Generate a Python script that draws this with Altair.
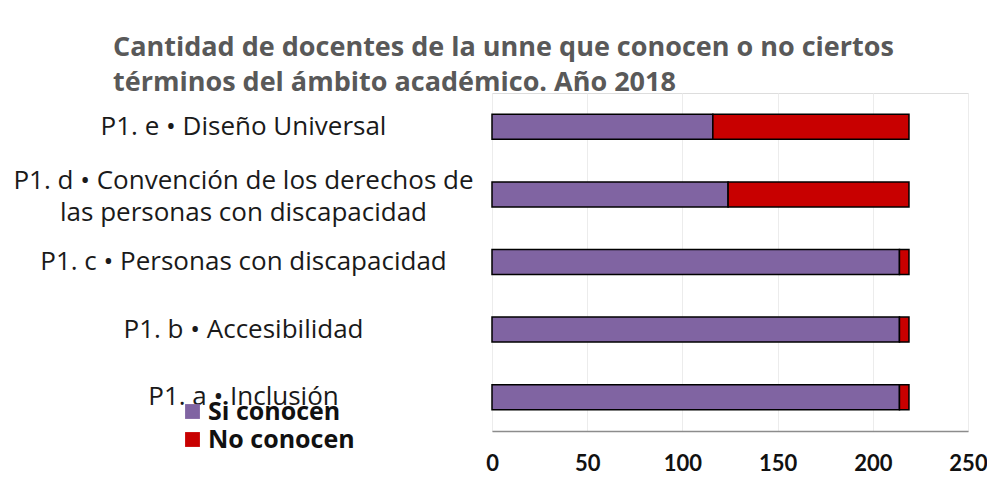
import altair as alt
import pandas as pd

categories = [
    "P1. e • Diseño Universal",
    "P1. d • Convención de los derechos de|las personas con discapacidad",
    "P1. c • Personas con discapacidad",
    "P1. b • Accesibilidad",
    "P1. a • Inclusión",
]
si_conocen = [116, 124, 214, 214, 214]
no_conocen = [103, 95, 5, 5, 5]
series = ["Si conocen", "No conocen"]
bar_colors = ["#8064a2", "#c80000"]
x_ticks = [0, 50, 100, 150, 200, 250]
title_lines = [
    "Cantidad de docentes de la unne que conocen o no ciertos",
    "términos del ámbito académico. Año 2018",
]

rows = []
for i, c in enumerate(categories):
    rows.append({"cat": c, "serie": series[0], "val": si_conocen[i], "ord": 0})
    rows.append({"cat": c, "serie": series[1], "val": no_conocen[i], "ord": 1})
df = pd.DataFrame(rows)

FONT = "Open Sans"

bars = alt.Chart(df).mark_bar(stroke="black", strokeWidth=1.5).encode(
    y=alt.Y("cat:N", sort=categories,
            scale=alt.Scale(paddingInner=0.63, paddingOuter=0.315),
            axis=alt.Axis(title=None, labelAlign="center", labelBaseline="middle",
                          labelPadding=249, ticks=False, domain=False,
                          labelExpr="split(datum.value, '|')",
                          labelOffset={"condition": {"test": "indexof(datum.value, '|') >= 0", "value": -13},
                                       "value": 0},
                          labelFontSize=26, labelFont=FONT, labelColor="#1a1a1a",
                          labelLineHeight=32, labelLimit=700)),
    x=alt.X("val:Q", stack="zero",
            scale=alt.Scale(domain=[0, 250], nice=False),
            axis=alt.Axis(title=None, values=x_ticks, grid=True, gridColor="#ececec",
                          ticks=False, domainColor="#8c8c8c", domainWidth=1.5,
                          labelFontSize=22, labelFontWeight="bold", labelFont="Lato",
                          labelColor="#111111", labelPadding=22, labelFlush=False)),
    color=alt.Color("serie:N", scale=alt.Scale(domain=series, range=bar_colors),
                    legend=alt.Legend(title=None, orient="none", legendX=-312, legendY=306,
                                      symbolType="square", symbolSize=220,
                                      symbolStrokeWidth=0,
                                      labelFontSize=25, labelFontWeight="bold", labelFont=FONT,
                                      labelColor="#111111", labelOffset=3, rowPadding=2)),
    order=alt.Order("ord:Q"),
)

chart = bars.properties(
    width=476, height=338,
    autosize=alt.AutoSizeParams(type="none"),
    padding={"left": 484, "top": 85, "right": 19, "bottom": 56},
    title=alt.TitleParams(text=title_lines, anchor="start", frame="group", dx=-379,
                          offset=-4, fontSize=27, font=FONT, fontWeight="bold",
                          color="#595959", lineHeight=35),
).configure_view(stroke="#bfbfbf", strokeWidth=1.5).configure(background="white")

chart.save("out.html", embed_options={"renderer": "svg", "actions": False})
